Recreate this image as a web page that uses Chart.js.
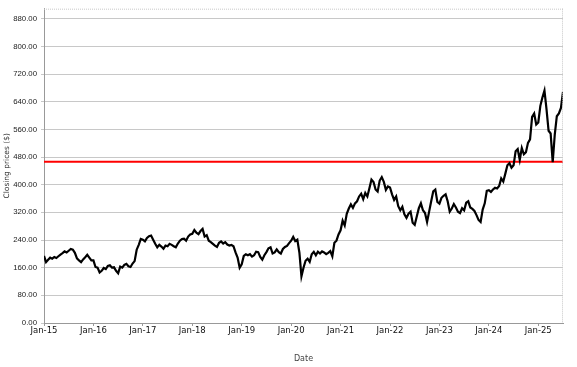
<!DOCTYPE html>
<html>
<head>
<meta charset="utf-8">
<script src="https://cdn.jsdelivr.net/npm/chart.js@4/dist/chart.umd.min.js"></script>
<style>
html,body{margin:0;padding:0;background:#fff;}
#wrap{width:577px;height:367px;position:relative;}
</style>
</head>
<body>
<div id="wrap"><canvas id="c" width="577" height="367"></canvas></div>
<script>
// Semi-monthly closing prices (1st and 15th of each month)
const p2015 = [194, 176, 183, 189, 186, 191, 188, 193, 198, 202, 207, 204, 209, 214, 212, 203, 187, 181, 176, 184, 190, 197, 189, 181];
const p2016 = [181, 162, 160, 146, 151, 159, 156, 165, 167, 160, 161, 151, 144, 163, 160, 168, 171, 164, 162, 172, 179, 212, 226, 243];
const p2017 = [241, 236, 246, 251, 253, 241, 229, 219, 226, 221, 215, 224, 222, 229, 226, 222, 219, 230, 238, 243, 244, 238, 250, 256];
const p2018 = [258, 269, 261, 257, 266, 272, 250, 254, 238, 234, 229, 224, 220, 232, 236, 230, 234, 227, 224, 226, 222, 204, 189, 160];
const p2019 = [170, 194, 199, 196, 199, 192, 196, 206, 205, 191, 183, 196, 205, 216, 219, 201, 204, 213, 205, 201, 214, 220, 223, 231];
const p2020 = [238, 249, 237, 241, 204, 135, 160, 180, 186, 177, 199, 206, 196, 206, 201, 207, 204, 199, 203, 208, 193, 232, 238, 256];
const p2021 = [268, 296, 282, 316, 331, 343, 333, 346, 352, 366, 374, 358, 376, 366, 390, 415, 408, 386, 380, 412, 422, 408, 385, 395];
const p2022 = [392, 372, 356, 366, 338, 326, 336, 314, 304, 316, 322, 290, 284, 308, 332, 346, 326, 318, 292, 322, 352, 381, 386, 350];
const p2023 = [345, 362, 368, 372, 352, 322, 331, 344, 334, 322, 318, 332, 326, 348, 352, 334, 330, 324, 312, 298, 292, 328, 346, 382];
const p2024 = [384, 379, 386, 391, 389, 396, 418, 409, 432, 456, 462, 449, 456, 497, 503, 472, 506, 488, 494, 521, 531, 596, 606, 574];
const p2025 = [580, 628, 652, 672, 618, 556, 548, 465, 545, 598, 606, 622, 668];
const years = [p2015, p2016, p2017, p2018, p2019, p2020, p2021, p2022, p2023, p2024, p2025];

const xTickLabels = ['Jan-15','Jan-16','Jan-17','Jan-18','Jan-19','Jan-20','Jan-21','Jan-22','Jan-23','Jan-24','Jan-25'];
const yTickValues = [0, 80, 160, 240, 320, 400, 480, 560, 640, 720, 800, 880];
const refLevel = 466;
const yMax = 909;
const xMax = 126; // months since Jan-15

// Build points: x in months since Jan 2015
const pts = [];
years.forEach((arr, yi) => {
  arr.forEach((v, i) => pts.push({x: yi * 12 + i * 0.5, y: v}));
});

const borderPlugin = {
  id: 'plotBorder',
  afterDatasetsDraw(chart) {
    const a = chart.chartArea, ctx = chart.ctx;
    ctx.save();
    ctx.strokeStyle = '#c8c8c8';
    ctx.lineWidth = 1;
    ctx.setLineDash([1, 1]);
    ctx.beginPath();
    ctx.moveTo(a.left, a.top + 0.5);
    ctx.lineTo(a.right, a.top + 0.5);
    ctx.moveTo(a.right - 0.5, a.top);
    ctx.lineTo(a.right - 0.5, a.bottom);
    ctx.stroke();
    ctx.restore();
  }
};

new Chart(document.getElementById('c'), {
  type: 'line',
  data: {
    datasets: [
      {
        data: pts,
        borderColor: '#000',
        borderWidth: 2.2,
        pointRadius: 0,
        tension: 0,
        order: 1
      },
      {
        data: [{x: 0, y: refLevel}, {x: xMax, y: refLevel}],
        borderColor: '#ff0000',
        borderWidth: 2,
        pointRadius: 0,
        order: 2
      }
    ]
  },
  options: {
    responsive: false,
    animation: false,
    events: [],
    layout: {padding: {top: 3, right: 14, left: 0, bottom: 0}},
    plugins: {legend: {display: false}, tooltip: {enabled: false}},
    scales: {
      x: {
        type: 'linear',
        min: 0,
        max: xMax,
        afterBuildTicks(scale) {
          scale.ticks = xTickLabels.map((_, i) => ({value: i * 12}));
        },
        afterFit(scale) { scale.height = 44; },
        ticks: {
          autoSkip: false,
          maxRotation: 0,
          padding: 0,
          color: '#111',
          font: {family: 'DejaVu Sans', size: 8.5},
          callback: (v) => xTickLabels[Math.round(v / 12)]
        },
        grid: {display: true, drawOnChartArea: false, drawTicks: true, tickLength: 3, color: '#999'},
        border: {display: true, color: '#999'},
        title: {display: true, text: 'Date', color: '#444', font: {family: 'DejaVu Sans', size: 8}, padding: {top: 0, bottom: 3}}
      },
      y: {
        type: 'linear',
        min: 0,
        max: yMax,
        afterBuildTicks(scale) {
          scale.ticks = yTickValues.map(v => ({value: v}));
        },
        afterFit(scale) { scale.width = 44; },
        ticks: {
          padding: 4,
          color: '#222',
          font: {family: 'Liberation Sans', size: 7.8},
          callback: (v) => Number(v).toFixed(2)
        },
        grid: {color: '#c8c8c8', lineWidth: 1, tickLength: 3},
        border: {display: true, color: '#999'},
        title: {display: true, text: 'Closing prices ($)', color: '#333', font: {family: 'DejaVu Sans', size: 7.5}, padding: {top: 3, bottom: 0}}
      }
    }
  },
  plugins: [borderPlugin]
});
</script>
</body>
</html>
